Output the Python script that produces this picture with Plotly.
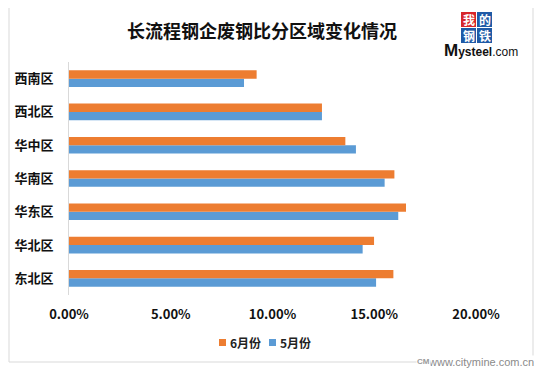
import plotly.graph_objects as go

categories = ["东北区", "华北区", "华东区", "华南区", "华中区", "西北区", "西南区"]
may_values = [0.1509, 0.1443, 0.1618, 0.1551, 0.1410, 0.1243, 0.0860]
june_values = [0.1594, 0.1499, 0.1656, 0.1599, 0.1358, 0.1243, 0.0922]
series_names = ["6月份", "5月份"]
x_ticks = [0, 0.05, 0.10, 0.15, 0.20]
x_tick_labels = ["0.00%", "5.00%", "10.00%", "15.00%", "20.00%"]

# page body has an 8px margin; lay out in window pixels and offset
OFF = 8
W, H = 542 - OFF, 371 - OFF
L = 69 - OFF
R = W - (476 - OFF)
T = 62 - OFF
B = H - (295 - OFF)
PW = W - L - R
PH = H - T - B

def px(x):
    return (x - OFF - L) / PW

def py(y):
    return (H - B - (y - OFF)) / PH

FONT = "Noto Sans CJK SC, Microsoft YaHei, sans-serif"
BLUE = "#5B9BD5"
ORANGE = "#ED7D31"

fig = go.Figure()
fig.add_trace(go.Bar(y=categories, x=may_values, orientation="h", name=series_names[1],
                     marker=dict(color=BLUE, line=dict(width=0))))
fig.add_trace(go.Bar(y=categories, x=june_values, orientation="h", name=series_names[0],
                     marker=dict(color=ORANGE, line=dict(width=0))))

shapes = [
    dict(type="rect", xref="paper", yref="paper", x0=px(9), x1=px(533), y0=py(362), y1=py(4),
         line=dict(color="#d9d9d9", width=1), fillcolor="rgba(0,0,0,0)", layer="below"),
]
logo = [("我", 461, 12, "#d7262b"), ("的", 477, 12, "#1f5aa6"),
        ("钢", 461, 28, "#1f5aa6"), ("铁", 477, 28, "#1f5aa6")]
annotations = []
for ch, x0, y0, col in logo:
    shapes.append(dict(type="rect", xref="paper", yref="paper", x0=px(x0), x1=px(x0 + 15),
                       y0=py(y0 + 15), y1=py(y0), line=dict(width=0), fillcolor=col))
    annotations.append(dict(text="<b>" + ch + "</b>", x=px(x0 + 7.5), y=py(y0 + 7.5), xref="paper", yref="paper",
                            showarrow=False, xanchor="center", yanchor="middle",
                            font=dict(family=FONT, size=12, color="white")))

# legend (compact, drawn as swatch + label)
for name, col, sx in [(series_names[0], ORANGE, 219), (series_names[1], BLUE, 269)]:
    shapes.append(dict(type="rect", xref="paper", yref="paper", x0=px(sx), x1=px(sx + 7),
                       y0=py(346), y1=py(339), line=dict(width=0), fillcolor=col))
    annotations.append(dict(text="<b>" + name + "</b>", x=px(sx + 9), y=py(342.5), xref="paper", yref="paper",
                            showarrow=False, xanchor="left", yanchor="middle",
                            font=dict(family=FONT, size=12, color="#222222")))

annotations += [
    dict(text="<b>长流程钢企废钢比分区域变化情况</b>", x=px(262), y=py(30), xref="paper", yref="paper",
         showarrow=False, xanchor="center", yanchor="middle",
         font=dict(family=FONT, size=18, color="#111111")),
    dict(text="<b><span style='font-size:17px'>M</span>ysteel</b>.com", x=px(481), y=py(50), xref="paper", yref="paper",
         showarrow=False, xanchor="center", yanchor="middle",
         font=dict(family="Liberation Sans, Arial", size=12, color="#111111")),
    dict(text="www.citymine.com.cn", x=px(535), y=py(362), xref="paper", yref="paper",
         showarrow=False, xanchor="right", yanchor="middle", bgcolor="white", borderpad=0,
         font=dict(family="Liberation Sans, sans-serif", size=11, color="#8a8a8a")),
    dict(text="<b>CM</b>", x=px(423), y=py(361), xref="paper", yref="paper",
         showarrow=False, xanchor="center", yanchor="middle", bgcolor="white", borderpad=0,
         font=dict(family="Liberation Sans", size=8, color="#9a9a9a")),
]

fig.update_layout(
    width=W, height=H,
    margin=dict(l=L, r=R, t=T, b=B, pad=0, autoexpand=False),
    paper_bgcolor="white", plot_bgcolor="white",
    barmode="group", bargap=0.5, bargroupgap=0,
    showlegend=False,
    xaxis=dict(range=[0, 0.2], tickvals=x_ticks, ticktext=[f"<b>{t}</b>" for t in x_tick_labels],
               showgrid=False, zeroline=False, showline=False, ticks="",
               ticklabelstandoff=10, automargin=False,
               tickfont=dict(family=FONT, size=13, color="#111111")),
    yaxis=dict(showgrid=False, zeroline=False, showline=True, linecolor="#d9d9d9", linewidth=1,
               ticks="", ticklabelstandoff=12, automargin=False,
               categoryorder="array", categoryarray=categories,
               ticktext=[f"<b>{c}</b>" for c in categories], tickvals=categories,
               tickfont=dict(family=FONT, size=13, color="#111111")),
    shapes=shapes,
    annotations=annotations,
)

fig.write_html("out.html")
